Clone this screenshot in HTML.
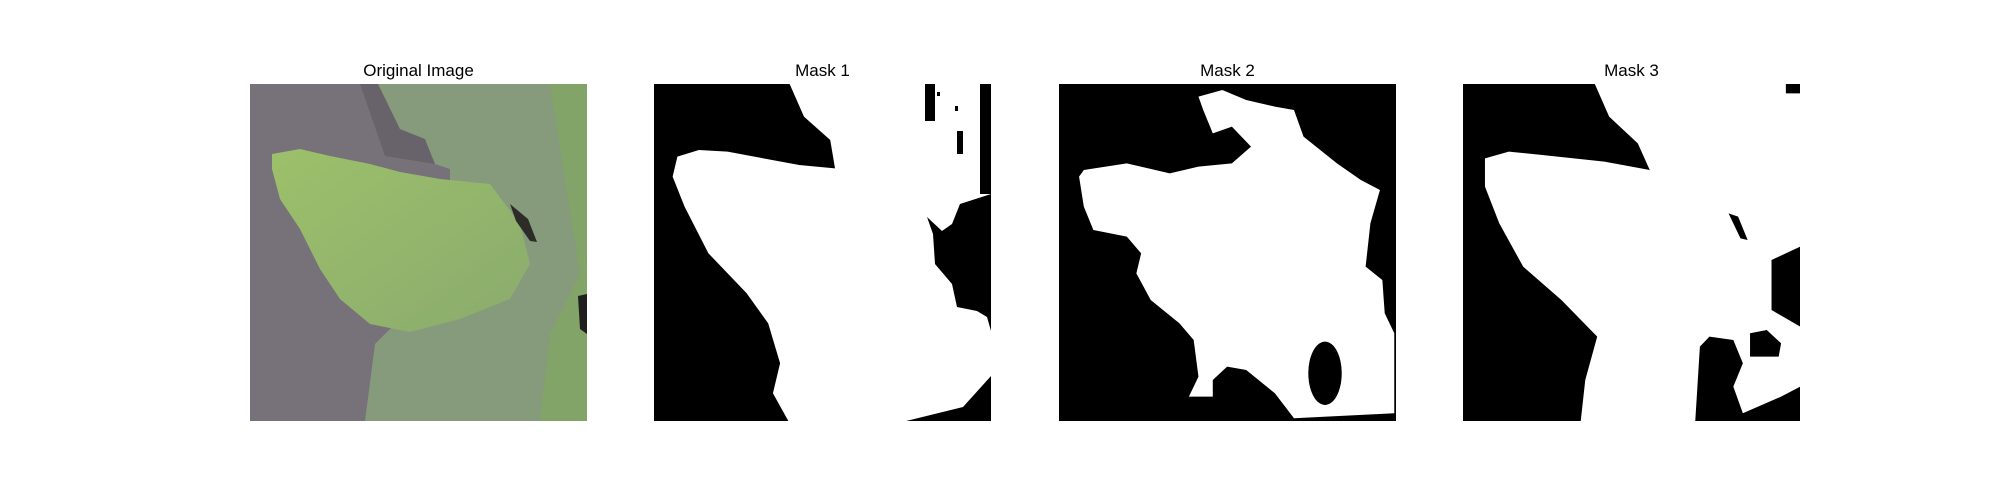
<!DOCTYPE html>
<html><head><meta charset="utf-8">
<style>
html,body{margin:0;padding:0;background:#fff;}
#fig{position:relative;width:2000px;height:500px;background:#fff;font-family:"Liberation Sans","DejaVu Sans",sans-serif;}
.title{position:absolute;top:61px;width:337px;text-align:center;font-size:17px;color:#000;}
.panel{position:absolute;top:84px;width:337px;height:337px;overflow:hidden;}
</style></head><body>
<div id="fig">
  <div class="title" style="left:250px">Original Image</div>
  <div class="title" style="left:654px">Mask 1</div>
  <div class="title" style="left:1059px">Mask 2</div>
  <div class="title" style="left:1463px">Mask 3</div>

  <svg class="panel" style="left:250px" viewBox="0 0 337 337">
    <defs>
      <linearGradient id="lg1" x1="0" y1="0" x2="1" y2="1">
        <stop offset="0" stop-color="#9cc06a"/><stop offset="1" stop-color="#8aab6e"/>
      </linearGradient>
    </defs>
    <rect width="337" height="337" fill="#77727a"/>
    <path d="M110,0 L130,0 L150,45 L175,55 L185,80 L135,72 Z" fill="#68636a"/>
    <path d="M128,0 L337,0 L337,337 L115,337 L125,260 L140,245 L200,200 L200,85 L185,80 L175,55 L150,45 Z" fill="#869a7c"/>
    <path d="M300,0 L337,0 L337,337 L290,337 L300,250 L330,190 Z" fill="#82a468"/>
    <path d="M22,70 L50,65 L80,72 L120,80 L150,88 L190,95 L240,100 L270,140 L280,180 L260,215 L210,235 L160,248 L120,240 L90,215 L70,185 L50,145 L30,115 L22,85 Z" fill="url(#lg1)"/>
    <path d="M260,120 L278,135 L287,158 L280,157 L266,137 Z" fill="#2e2c28"/>
    <path d="M328,212 L337,210 L337,250 L330,245 Z" fill="#1f1f1f"/>
  </svg>

  <svg class="panel" style="left:654px" viewBox="0 0 337 337">
    <rect width="337" height="337" fill="#000"/>
    <g transform="scale(0.4776,0.3333) translate(-846,-12)">
      <path d="M1130,12 L1160,110 L1215,180 L1225,265 L1150,255 L1000,215 L940,210 L895,230 L885,290 L910,380 L960,520 L1040,640 L1085,730 L1110,850 L1095,940 L1130,1030 L1560,1030 L1560,12 Z" fill="#fff"/>
    </g>
    <g fill="#000">
      <rect x="326" y="0" width="11" height="110"/>
      <rect x="271" y="0" width="10" height="37"/>
      <rect x="303" y="47" width="6" height="23"/>
      <rect x="283" y="8" width="3" height="4"/>
      <rect x="301" y="22" width="3" height="5"/>
      <path d="M337,110 L306,120 L298,140 L288,147 L273,133 L279,150 L281,180 L298,200 L303,223 L323,227 L333,233 L337,247 Z"/>
      <path d="M337,292 L309,323 L240,340 L337,340 Z"/>
    </g>
  </svg>

  <svg class="panel" style="left:1059px" viewBox="0 0 337 337">
    <rect width="337" height="337" fill="#000"/>
    <g transform="scale(0.4776,0.3333) translate(-8,-12)">
      <path d="M60,270 L150,250 L240,280 L300,260 L370,250 L410,200 L370,140 L330,160 L310,90 L300,50 L350,30 L400,60 L460,80 L500,90 L520,170 L590,250 L640,300 L680,330 L660,430 L650,560 L685,600 L690,700 L710,760 L710,1000 L500,1015 L460,940 L400,870 L360,860 L330,900 L330,950 L280,950 L300,890 L290,780 L260,730 L200,660 L170,580 L180,520 L150,470 L80,450 L60,380 L50,290 Z" fill="#fff"/>
      <ellipse cx="565" cy="880" rx="35" ry="95" fill="#000"/>
    </g>
  </svg>

  <svg class="panel" style="left:1463px" viewBox="0 0 337 337">
    <rect width="337" height="337" fill="#000"/>
    <g transform="scale(0.4776,0.3333) translate(-854,-12)">
      <path d="M1130,12 L1160,110 L1220,190 L1245,270 L1150,245 L1020,225 L950,215 L900,235 L900,320 L930,430 L980,560 L1060,660 L1135,770 L1110,900 L1100,1030 L1340,1030 L1350,800 L1370,770 L1420,780 L1440,850 L1420,920 L1440,1000 L1520,950 L1560,920 L1560,740 L1500,690 L1500,540 L1560,500 L1560,40 L1530,40 L1530,12 Z" fill="#fff"/>
      <path d="M1410,400 L1430,410 L1450,480 L1435,475 Z" fill="#000"/>
      <path d="M1455,760 L1490,750 L1520,790 L1515,830 L1455,830 Z" fill="#000"/>
    </g>
  </svg>
</div>
</body></html>
